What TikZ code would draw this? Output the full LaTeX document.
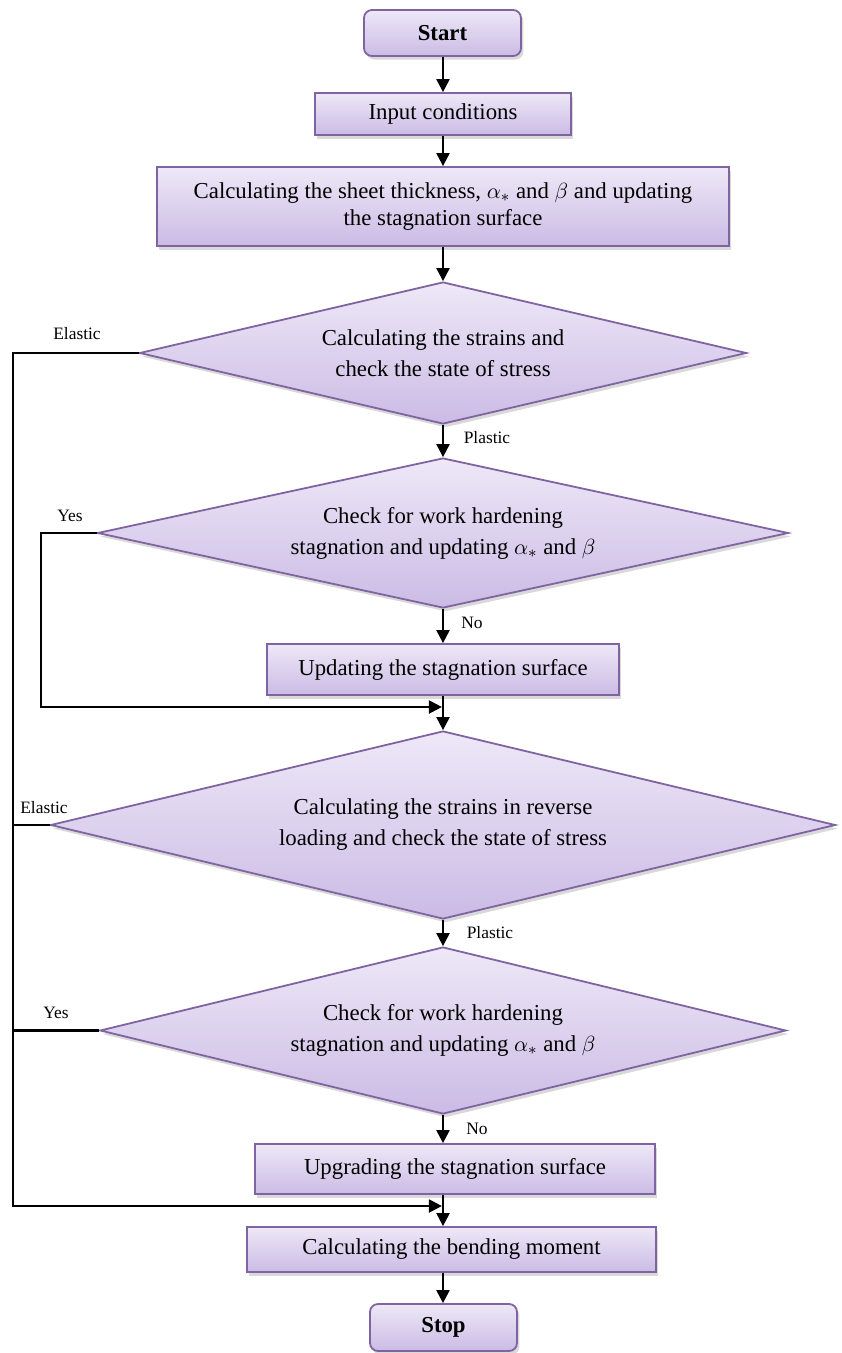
\documentclass[tikz,border=0pt]{standalone}
\usepackage{fontspec}
\setmainfont{Liberation Serif}
\usetikzlibrary{arrows.meta,shapes.geometric,shadows}
\definecolor{pborder}{RGB}{128,100,162}
\definecolor{ptop}{RGB}{238,232,247}
\definecolor{pbot}{RGB}{203,187,229}
\begin{document}
\begin{tikzpicture}[x=0.5pt,y=-0.5pt,
  boxbase/.style={draw=pborder, line width=0.9pt, top color=ptop, bottom color=pbot,
    drop shadow={shadow xshift=1.2pt, shadow yshift=-1.8pt, opacity=0.3},
    inner sep=0pt, align=center, font=\fontsize{11.4}{13.5}\selectfont},
  proc/.style={boxbase, rectangle},
  term/.style={boxbase, rectangle, rounded corners=4pt, font=\fontsize{11.4}{13.5}\selectfont\bfseries},
  dec/.style={boxbase, diamond, font=\fontsize{11.4}{15.5}\selectfont},
  flow/.style={line width=1.1pt, -{Triangle[length=6.5pt,width=6.5pt]}},
  wire/.style={line width=1.1pt},
  lbl/.style={font=\fontsize{8.7}{10}\selectfont, inner sep=0pt}
]
\useasboundingbox (0,0) rectangle (841,1353);

\coordinate (ax) at (443,0);
\coordinate (o) at (13,0);
\coordinate (o2) at (41,0);
\coordinate (m1) at (443,707);
\coordinate (m2) at (443,1206);

\node[term, minimum width=78.5pt, minimum height=23pt] (start) at (442.5,33) {Start};
\node[proc, minimum width=128pt, minimum height=21pt] (input) at (443,114) {Input conditions};
\node[proc, minimum width=286pt, minimum height=39.5pt] (calc) at (443,206.5)
  {Calculating the sheet thickness, $\alpha_*$ and $\beta$ and updating\\the stagnation surface};
\node[dec, aspect=4.275, minimum width=303.5pt, minimum height=71pt] (d1) at (443,353)
  {Calculating the strains and\\check the state of stress};
\node[dec, aspect=4.607, minimum width=345.5pt, minimum height=75pt] (d2) at (443,533)
  {Check for work hardening\\stagnation and updating $\alpha_*$ and $\beta$};
\node[proc, minimum width=176pt, minimum height=25.5pt] (update) at (443,669.5)
  {Updating the stagnation surface};
\node[dec, aspect=4.176, minimum width=392.5pt, minimum height=94pt] (d3) at (443,825)
  {Calculating the strains in reverse\\loading and check the state of stress};
\node[dec, aspect=4.108, minimum width=343pt, minimum height=83.5pt] (d4) at (443,1030.5)
  {Check for work hardening\\stagnation and updating $\alpha_*$ and $\beta$};
\node[proc, minimum width=200pt, minimum height=25pt] (upgrade) at (455,1169)
  {Upgrading the stagnation surface};
\node[proc, minimum width=204.5pt, minimum height=22.5pt] (bending) at (451.5,1249.5)
  {Calculating the bending moment};
\node[term, minimum width=73.5pt, minimum height=23.5pt] (stop) at (443.5,1327.5) {Stop};

\draw[flow] (ax |- start.south) -- (ax |- input.north);
\draw[flow] (ax |- input.south) -- (ax |- calc.north);
\draw[flow] (ax |- calc.south) -- (d1.north);
\draw[flow] (d1.south) -- (d2.north);
\draw[flow] (d2.south) -- (ax |- update.north);
\draw[flow] (ax |- update.south) -- (d3.north);
\draw[flow] (d3.south) -- (d4.north);
\draw[flow] (d4.south) -- (ax |- upgrade.north);
\draw[flow] (ax |- upgrade.south) -- (ax |- bending.north);
\draw[flow] (ax |- bending.south) -- (ax |- stop.north);

\draw[flow, shorten >=0.55pt] (d2.west) -- (d2.west -| o2) -- (o2 |- m1) -- (m1);
\draw[flow, shorten >=0.55pt] (d1.west) -- (d1.west -| o) -- (o |- m2) -- (m2);
\draw[wire] (d3.west) -- (d3.west -| o);
\draw[wire] (d4.west) -- (d4.west -| o);

\node[lbl] (lp1) at (487,438) {Plastic};
\node[lbl] (ln1) at (472,623) {No};
\node[lbl] (lp2) at (490,933) {Plastic};
\node[lbl] (ln2) at (477,1129) {No};
\node[lbl] (le1) at (77,334) {Elastic};
\node[lbl] (ly1) at (70,516) {Yes};
\node[lbl] (le2) at (44,808) {Elastic};
\node[lbl] (ly2) at (56,1013) {Yes};
\end{tikzpicture}
\end{document}
